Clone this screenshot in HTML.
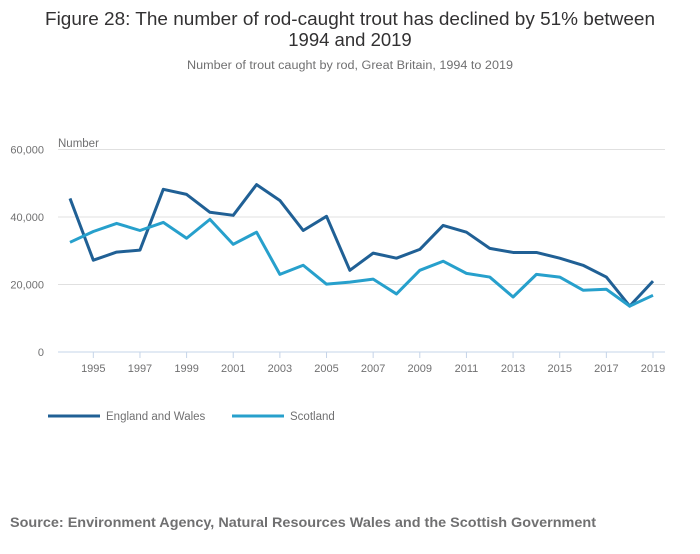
<!DOCTYPE html>
<html><head><meta charset="utf-8"><style>
body{margin:0;background:#fff;font-family:"Liberation Sans",sans-serif;}
svg text{font-family:"Liberation Sans",sans-serif;}
</style></head><body>
<svg width="700" height="549" viewBox="0 0 700 549">
<text x="45" y="25" textLength="610" lengthAdjust="spacingAndGlyphs" font-size="18.5" fill="#323132">Figure 28: The number of rod-caught trout has declined by 51% between</text>
<text x="350" y="46" text-anchor="middle" font-size="18.5" fill="#323132">1994 and 2019</text>
<text x="187" y="69" textLength="326" lengthAdjust="spacingAndGlyphs" font-size="11.5" fill="#707071">Number of trout caught by rod, Great Britain, 1994 to 2019</text>
<text x="58" y="147" font-size="11.5" fill="#707071">Number</text>
<g id="grid"></g><g id="xaxis"></g><g id="lines"></g>
<g>
<line x1="48" y1="416" x2="100" y2="416" stroke="#206095" stroke-width="3"/>
<text x="106" y="420" font-size="11.5" fill="#707071">England and Wales</text>
<line x1="232" y1="416" x2="284" y2="416" stroke="#27a0cc" stroke-width="3"/>
<text x="290" y="420" font-size="11.5" fill="#707071">Scotland</text>
</g>
<text x="10" y="527" textLength="586" lengthAdjust="spacingAndGlyphs" font-size="14" font-weight="bold" fill="#707071">Source: Environment Agency, Natural Resources Wales and the Scottish Government</text>
</svg>
<script>
const years=[1994,1995,1996,1997,1998,1999,2000,2001,2002,2003,2004,2005,2006,2007,2008,2009,2010,2011,2012,2013,2014,2015,2016,2017,2018,2019];
const englandWales=[45500,27200,29600,30200,48200,46700,41400,40500,49600,44900,36000,40200,24200,29300,27800,30400,37500,35500,30700,29500,29500,27800,25700,22200,13600,21000];
const scotland=[32500,35700,38100,36000,38400,33700,39300,31900,35500,23000,25700,20100,20700,21600,17200,24200,26900,23300,22200,16300,23000,22200,18300,18600,13600,16800];
const yTicks=[0,20000,40000,60000];
const yTickLabels=["0","20,000","40,000","60,000"];
const xTickYears=[1995,1997,1999,2001,2003,2005,2007,2009,2011,2013,2015,2017,2019];
const NS="http://www.w3.org/2000/svg";
const x=y=>70+(y-1994)*(653-70)/25;
const yv=v=>352-v*(202.5/60000);
function mk(t,a,p){const e=document.createElementNS(NS,t);for(const k in a)e.setAttribute(k,a[k]);p.appendChild(e);return e;}
const g=document.getElementById('grid');
yTicks.forEach((t,i)=>{
 const l=mk('line',{x1:58,x2:665,y1:yv(t),y2:yv(t),stroke:t===0?'#c5d4e8':'#e0e0e0','stroke-width':1},g);
 
 
 const tx=mk('text',{x:44,y:yv(t)+4,'text-anchor':'end','font-size':11,fill:'#707071'},g);
 tx.textContent=yTickLabels[i];
 
 
});
const xa=document.getElementById('xaxis');
xTickYears.forEach(yr=>{
 const l=mk('line',{x1:x(yr),x2:x(yr),y1:352,y2:358,stroke:'#c5d4e8'},xa);
 
 
 const tx=mk('text',{x:x(yr),y:372,'text-anchor':'middle','font-size':11,fill:'#707071'},xa);
 tx.textContent=yr;
 
 
});
const lg=document.getElementById('lines');
[[englandWales,'#206095','line-england-wales'],[scotland,'#27a0cc','line-scotland']].forEach(([d,c,n])=>{
 const p=mk('polyline',{points:d.map((v,i)=>x(years[i])+','+yv(v)).join(' '),fill:'none',stroke:c,'stroke-width':3,'stroke-linejoin':'round'},lg);
 
 
});
</script>
</body></html>
